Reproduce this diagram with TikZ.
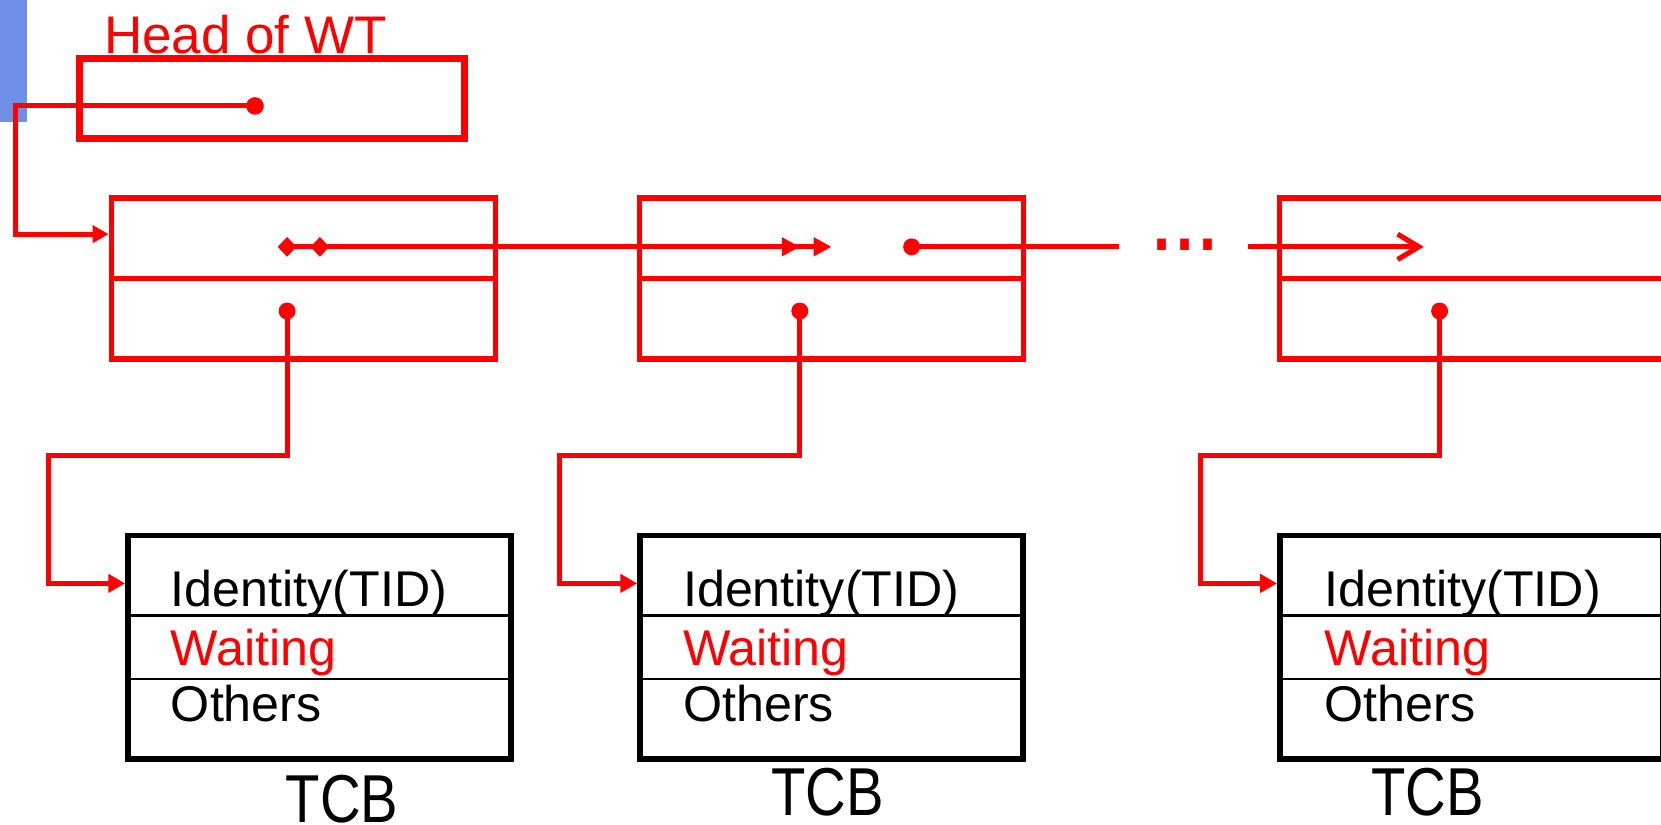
\documentclass[tikz,border=0pt]{standalone}
\usepackage{fontspec}
\setmainfont{Liberation Sans}
\usepackage{graphicx}
\usetikzlibrary{arrows.meta,shapes.geometric}
\definecolor{wtred}{RGB}{255,0,0}
\definecolor{barblue}{RGB}{111,142,229}

\begin{document}
\begin{tikzpicture}[x=0.5pt,y=-0.5pt,
  listbox/.style={draw=wtred,line width=2.5pt,minimum width=181.5pt,minimum height=76pt,inner sep=0pt},
  headbox/.style={draw=wtred,line width=3.45pt,minimum width=181.75pt,minimum height=37.85pt,inner sep=0pt},
  tcbbox/.style={draw=black,line width=2.6pt,minimum width=180.8pt,minimum height=105.5pt,inner sep=0pt},
  field/.style={draw=black,line width=1.27pt},
  divider/.style={draw=wtred,line width=2.5pt},
  conn/.style={draw=wtred,line width=2.4pt},
  ptrdot/.style={circle,fill=wtred,inner sep=0pt,minimum size=8pt},
  ptrdiam/.style={diamond,fill=wtred,inner sep=0pt,minimum width=9pt,minimum height=9.5pt},
  lbl/.style={anchor=base west,inner sep=0pt,font=\fontsize{23.7}{28}\selectfont},
  tcblbl/.style={anchor=base west,inner sep=0pt,font=\fontsize{32}{38}\selectfont},
  tcbin/.style={-{Triangle[length=8pt,width=8.5pt]}},
]
\useasboundingbox (0,0) rectangle (1568,778);
\clip (0,0) rectangle (1568,778);

% slide margin bar
\fill[barblue] (0,0) rectangle (25.5,115);

% head of the waiting list
\node[wtred,anchor=base west,inner sep=0pt,font=\fontsize{25}{30}\selectfont] (headlbl) at (98,50.3) {Head of WT};
\node[headbox] (head) at (256.75,92.85) {};
\node[ptrdot,minimum size=8.3pt] (hd) at (240.7,100) {};

% list nodes
\node[listbox] (n1) at (286.5,263) {};
\node[listbox] (n2) at (785,263) {};
\node[listbox] (n3) at (1389.5,263) {};
\foreach \n in {n1,n2,n3}{
  \draw[divider] (\n.west) -- (\n.east);
}

% thread control blocks
\node[tcbbox] (t1) at (301.6,611) {};
\node[tcbbox] (t2) at (785,611) {};
\node[tcbbox] (t3) at (1389,611) {};
\foreach \t in {t1,t2,t3}{
  \draw[field] ([yshift=15pt]\t.west) -- ([yshift=15pt]\t.east);
  \draw[field] ([yshift=-15pt]\t.west) -- ([yshift=-15pt]\t.east);
}

% fields of each block
\foreach \x/\k in {161/1,644.5/2,1250/3}{
  \node[lbl] (id\k) at (\x,572.7) {Identity(TID)};
  \node[lbl,text=wtred] (wt\k) at (\x,628) {Waiting};
  \node[lbl] (ot\k) at (\x,681) {Others};
}
\node[tcblbl] (c1) at (269.5,776.5) {\scalebox{0.83}[1]{TCB}};
\node[tcblbl] (c2) at (727.5,770) {\scalebox{0.83}[1]{TCB}};
\node[tcblbl] (c3) at (1294,770) {\scalebox{0.83}[1]{TCB}};

% pointer origins
\node[ptrdot] (d1) at ([xshift=-7.75pt,yshift=-15.3pt]n1.center) {};
\node[ptrdot] (d2) at ([xshift=-15pt,yshift=-15.3pt]n2.center) {};
\node[ptrdot] (d3) at ([xshift=-15.25pt,yshift=-15.3pt]n3.center) {};
\node[ptrdot] (nd2) at ([xshift=37.8pt,yshift=15pt]n2.center) {};
\node[ptrdiam] (q1) at (271,233) {};
\node[ptrdiam] (q2) at (302,233) {};
\coordinate (gapL) at (1056,233);
\coordinate (gapR) at (1178,233);

% head pointer
\draw[conn,-{Triangle[length=7.5pt,width=8pt]}] (hd.center) -- (15,100) |- ([yshift=21pt]n1.west);

% next pointers
\draw[conn,-{Triangle[length=8.5pt,width=8.5pt,sep=6.5pt]Triangle[length=8.5pt,width=8.5pt]}]
  (q1.center) -- (q2.center) -- ([yshift=15pt]n2.center);
\draw[conn] (nd2.center) -- (gapL);
\node[wtred,anchor=base west,inner sep=0pt,font=\bfseries\fontsize{29}{34}\selectfont] (ell) at (1088.5,236)
  {\scalebox{1}[1.25]{.\kern2.8pt.\kern2.8pt.}};
\draw[conn,-{Straight Barb[length=10pt,width=12pt]}] (gapR) -- ([xshift=-22.75pt,yshift=15pt]n3.center);

% pointers to the blocks
\draw[conn,tcbin] (d1.center) |- (45.7,430) |- ([yshift=30.15pt]t1.west);
\draw[conn,tcbin] (d2.center) |- (528,430) |- ([yshift=30.15pt]t2.west);
\draw[conn,tcbin] (d3.center) |- (1133,430) |- ([yshift=30.15pt]t3.west);
\end{tikzpicture}
\end{document}
